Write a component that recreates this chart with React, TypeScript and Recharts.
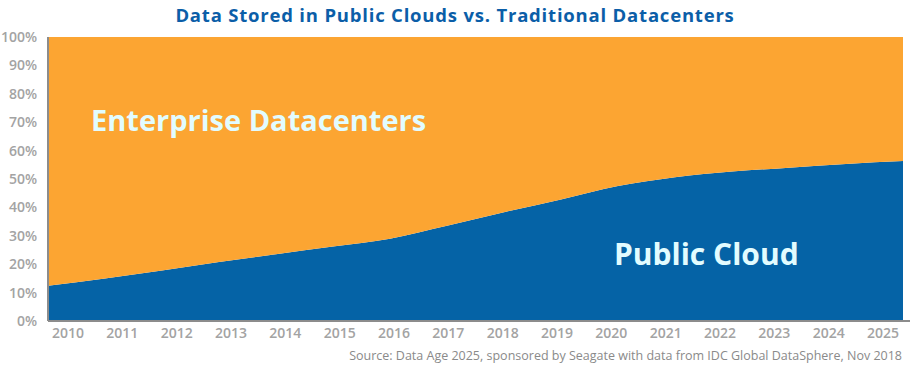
import React from "react";
import { AreaChart, Area, XAxis, YAxis } from "recharts";

const years = [2010, 2011, 2012, 2013, 2014, 2015, 2016, 2017, 2018, 2019, 2020, 2021, 2022, 2023, 2024, 2025];
const publicCloud = [12.4, 15.0, 17.8, 20.8, 23.5, 26.2, 29.0, 33.5, 38.3, 42.8, 47.5, 50.6, 52.6, 54.0, 55.3, 56.3];
const enterprise = publicCloud.map((v) => 100 - v);
const yTicks = [0, 10, 20, 30, 40, 50, 60, 70, 80, 90, 100];

const BLUE = "#0563a6";
const ORANGE = "#fca532";
const AXIS = "#8c8c8c";
const TICK = "#a3a3a3";
const FONT = "'Open Sans', sans-serif";

const data = years.map((y, i) => ({ year: y, cloud: publicCloud[i], dc: enterprise[i] }));

export default function App() {
  const tickStyle = { fill: TICK, fontSize: 14, fontWeight: 600, fontFamily: FONT };
  const big = {
    position: "absolute" as const,
    color: "#e2fcff",
    fontFamily: FONT,
    fontWeight: 700,
    whiteSpace: "nowrap" as const,
    lineHeight: 1,
  };
  return (
    <div style={{ position: "relative", width: 922, height: 372, background: "#fff" }}>
      <style>{`body{margin:0}`}</style>
      <AreaChart width={922} height={372} data={data} margin={{ top: 37, right: 12, bottom: 0, left: 0 }}>
        <XAxis xAxisId="data" dataKey="year" type="number" domain={[2010, 2025]} hide height={0} padding={{ left: 0, right: 7 }} />
        <XAxis
          xAxisId="lbl"
          dataKey="year"
          type="number"
          domain={[2010, 2025]}
          ticks={years}
          interval={0}
          padding={{ left: 20, right: 27 }}
          height={51}
          tickLine={false}
          tickSize={0}
          tickMargin={7}
          axisLine={{ stroke: AXIS, strokeWidth: 2 }}
          tick={tickStyle}
        />
        <YAxis
          domain={[0, 100]}
          ticks={yTicks}
          width={48}
          tickFormatter={(v: number) => `${v}%`}
          tickLine={false}
          tickSize={0}
          tickMargin={11}
          axisLine={{ stroke: AXIS, strokeWidth: 2 }}
          tick={tickStyle}
        />
        <Area xAxisId="data" type="monotone" dataKey="cloud" stackId="s" stroke="none" fill={BLUE} fillOpacity={1} isAnimationActive={false} />
        <Area xAxisId="data" type="monotone" dataKey="dc" stackId="s" stroke="none" fill={ORANGE} fillOpacity={1} isAnimationActive={false} />
      </AreaChart>
      <div
        style={{
          position: "absolute",
          top: 4,
          left: 0,
          width: 910,
          textAlign: "center",
          color: "#0b5ea8",
          fontFamily: FONT,
          fontWeight: 700,
          fontSize: 18.5,
          letterSpacing: 0.8,
          lineHeight: 1.2,
        }}
      >
        Data Stored in Public Clouds vs. Traditional Datacenters
      </div>
      <div style={{ ...big, fontSize: 29, left: 91, top: 105 }}>Enterprise Datacenters</div>
      <div style={{ ...big, fontSize: 30, left: 614, top: 239 }}>Public Cloud</div>
      <div
        style={{
          position: "absolute",
          right: 20,
          top: 347,
          color: "#8a8a8a",
          fontFamily: FONT,
          fontSize: 12.5,
          whiteSpace: "nowrap",
        }}
      >
        Source: Data Age 2025, sponsored by Seagate with data from IDC Global DataSphere, Nov 2018
      </div>
    </div>
  );
}
